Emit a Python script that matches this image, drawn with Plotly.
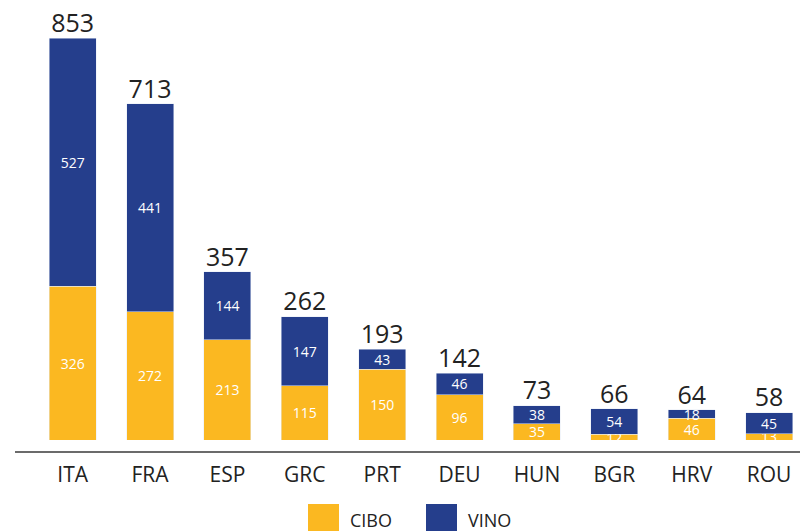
import plotly.graph_objects as go

countries = ["ITA", "FRA", "ESP", "GRC", "PRT", "DEU", "HUN", "BGR", "HRV", "ROU"]
cibo = [326, 272, 213, 115, 150, 96, 35, 12, 46, 13]
vino = [527, 441, 144, 147, 43, 46, 38, 54, 18, 45]
totals = [853, 713, 357, 262, 193, 142, 73, 66, 64, 58]

YELLOW = "#FBB821"
BLUE = "#253E8C"
FONT = "Open Sans"

W, H = 800, 531
ML, MR, MT, MB = 34, 0, 0, 91
pw = W - ML - MR
ph = H - MT - MB


def px_x(x):
    return (x - ML) / pw


def px_y(y):
    return (H - MB - y) / ph


fig = go.Figure()
fig.add_trace(go.Bar(
    x=countries, y=cibo, name="CIBO", marker_color=YELLOW,
    text=[str(v) for v in cibo], textposition="inside", insidetextanchor="middle",
    textangle=0, constraintext="none",
    textfont=dict(color="white", size=14, family=FONT),
))
fig.add_trace(go.Bar(
    x=countries, y=vino, name="VINO", marker_color=BLUE,
    text=[str(v) for v in vino], textposition="inside", insidetextanchor="middle",
    textangle=0, constraintext="none",
    textfont=dict(color="white", size=14, family=FONT),
))
fig.add_trace(go.Scatter(
    x=countries, y=totals, mode="text", text=[str(v) for v in totals],
    textposition="top center", textfont=dict(color="#222222", size=25, family=FONT),
    showlegend=False, hoverinfo="skip", cliponaxis=False,
))

# baseline rule below bars
fig.add_shape(type="line", xref="paper", yref="paper",
              x0=px_x(15), x1=1, y0=px_y(452), y1=px_y(452),
              line=dict(color="#6b6b6b", width=2))

# manual legend
legend_items = [("CIBO", YELLOW, 308, 348), ("VINO", BLUE, 426, 466)]
for name, col, sx, tx in legend_items:
    fig.add_shape(type="rect", xref="paper", yref="paper",
                  x0=px_x(sx), x1=px_x(sx + 31), y0=px_y(540), y1=px_y(504),
                  line=dict(width=0), fillcolor=col)
    fig.add_annotation(text=name, xref="paper", yref="paper",
                       x=px_x(tx), y=px_y(520), xanchor="left", yanchor="middle",
                       showarrow=False, font=dict(size=18, color="#222222", family=FONT))

fig.update_layout(
    width=W, height=H, barmode="stack", bargap=0.3935,
    margin=dict(l=ML, r=MR, t=MT, b=MB),
    plot_bgcolor="white", paper_bgcolor="white",
    showlegend=False,
    xaxis=dict(range=[-0.5, 9.4], showgrid=False, zeroline=False, showline=False,
               ticks="outside", ticklen=16, tickcolor="rgba(0,0,0,0)",
               tickfont=dict(size=21, color="#222222", family=FONT)),
    yaxis=dict(range=[0, ph / (402 / 853)], visible=False, showgrid=False, zeroline=False),
)

fig.write_html("out.html", config={"displayModeBar": False},
               post_script="document.body.style.margin='0';document.body.style.overflow='hidden';")
